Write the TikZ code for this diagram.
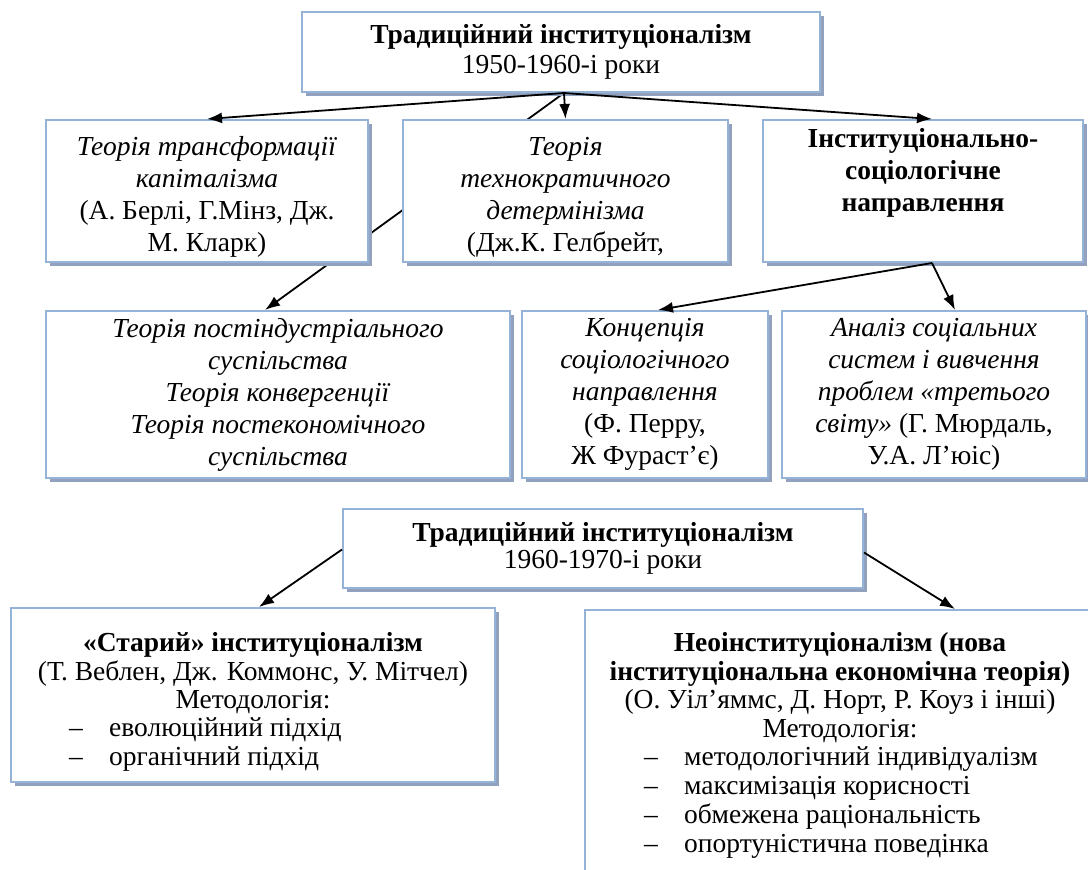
\documentclass[tikz,border=0pt]{standalone}
\usepackage{fontspec}
\setmainfont{Liberation Serif}
\usetikzlibrary{arrows.meta,shadows,calc}
\pgfdeclarelayer{bg}
\pgfsetlayers{bg,main}
\definecolor{boxline}{RGB}{149,179,215}
\definecolor{shadowc}{RGB}{146,162,190}
\begin{document}
\begin{tikzpicture}[x=1pt,y=-1pt,
  box/.style={draw=boxline, line width=2pt, fill=white,
    drop shadow={shadow xshift=4pt,shadow yshift=-4pt,fill=shadowc,opacity=1},
    inner sep=0pt, align=center, font=\fontsize{27.5}{32}\selectfont},
  topfont/.style={font=\fontsize{27.5}{30}\selectfont},
  midfont/.style={font=\fontsize{27.5}{27}\selectfont},
  lowfont/.style={font=\fontsize{27.5}{28.8}\selectfont},
  txt/.style={inner sep=0pt, align=center, lowfont},
  item/.style={inner sep=0pt, anchor=base west, lowfont},
  conn/.style={line width=1.8pt, -{Latex[length=15pt,width=11pt]}},
]
\useasboundingbox (0,0) rectangle (1088,870);
\clip (0,0) rectangle (1088,870);
% ---- boxes ----
\node[box, topfont, minimum width=518pt, minimum height=80pt] (top) at (561,52)
  {\textbf{Традиційний інституціоналізм}\\1950-1960-і роки};
\node[box, minimum width=322pt, minimum height=142pt] (A) at (207,191)
  {\rule{0pt}{30pt}\textit{Теорія трансформації}\\\textit{капіталізма}\\(А. Берлі, Г.Мінз, Дж.\\М. Кларк)};
\node[box, minimum width=325pt, minimum height=142pt] (B) at (565.5,191)
  {\rule{0pt}{30pt}\textit{Теорія}\\\textit{технократичного}\\\textit{детермінізма}\\(Дж.К. Гелбрейт,};
\node[box, minimum width=320pt, minimum height=142pt] (C) at (923,191)
  {\textbf{Інституціонально-}\\\textbf{соціологічне}\\\textbf{направлення}\\\strut};
\node[box, minimum width=464pt, minimum height=167pt] (D) at (278,394.5)
  {\textit{Теорія постіндустріального}\\\textit{суспільства}\\\textit{Теорія конвергенції}\\\textit{Теорія постекономічного}\\\textit{суспільства}};
\node[box, minimum width=246pt, minimum height=167pt] (E) at (645,394.5)
  {\textit{Концепція}\\\textit{соціологічного}\\\textit{направлення}\\(Ф. Перру,\\Ж Фураст’є)};
\node[box, minimum width=304pt, minimum height=167pt] (F) at (934,394.5)
  {\textit{Аналіз соціальних}\\\textit{систем і вивчення}\\\textit{проблем «третього}\\\textit{світу»} (Г. Мюрдаль,\\У.А. Л’юіс)};
\node[box, midfont, minimum width=520pt, minimum height=79pt] (G) at (603,548.5)
  {\textbf{Традиційний інституціоналізм}\\1960-1970-і роки};
\node[box, minimum width=484pt, minimum height=174pt] (H) at (253,695) {};
\node[box, minimum width=510pt, minimum height=290pt] (I) at (840,755) {};
% ---- texts of the lower boxes ----
\node[txt, anchor=north] (Ht) at ($(H.north)+(0,25)$)
  {\textbf{«Старий» інституціоналізм}\\(Т. Веблен, Дж. Коммонс, У. Мітчел)\\Методологія:};
\node[item] (H1) at ($(H.north west)+(59,129.5)$) {\makebox[40pt][l]{–}еволюційний підхід};
\node[item] (H2) at ($(H.north west)+(59,158.5)$) {\makebox[40pt][l]{–}органічний підхід};
\node[txt, anchor=north] (It) at ($(I.north)+(0,23)$)
  {\textbf{Неоінституціоналізм (нова}\\\textbf{інституціональна економічна теорія)}\\(О. Уіл’яммс, Д. Норт, Р. Коуз і інші)\\Методологія:};
\node[item] (I1) at ($(I.north west)+(60,156.5)$) {\makebox[40pt][l]{–}методологічний індивідуалізм};
\node[item] (I2) at ($(I.north west)+(60,185.5)$) {\makebox[40pt][l]{–}максимізація корисності};
\node[item] (I3) at ($(I.north west)+(60,214.5)$) {\makebox[40pt][l]{–}обмежена раціональність};
\node[item] (I4) at ($(I.north west)+(60,243)$) {\makebox[40pt][l]{–}опортуністична поведінка};
% ---- connectors ----
\begin{pgfonlayer}{bg}
\fill[white] (0,0) rectangle (1088,870);
\draw[conn] ($(top.south)+(3,0)$) -- ($(D.north)+(-13,0)$);
\end{pgfonlayer}
\draw[conn] ($(top.south)+(3,0)$) -- (A.north);
\draw[conn] ($(top.south)+(3,0)$) -- (B.north);
\draw[conn] ($(top.south)+(3,0)$) -- ($(C.north)+(9,0)$);
\draw[conn] ($(C.south)+(9,0)$) -- ($(E.north)+(13,0)$);
\draw[conn] ($(C.south)+(9,0)$) -- ($(F.north)+(21,0)$);
\draw[conn] ($(G.west)+(0,1)$) -- ($(H.north)+(6,0)$);
\draw[conn] ($(G.east)+(0,4)$) -- ($(I.north)+(115,0)$);
\end{tikzpicture}
\end{document}
